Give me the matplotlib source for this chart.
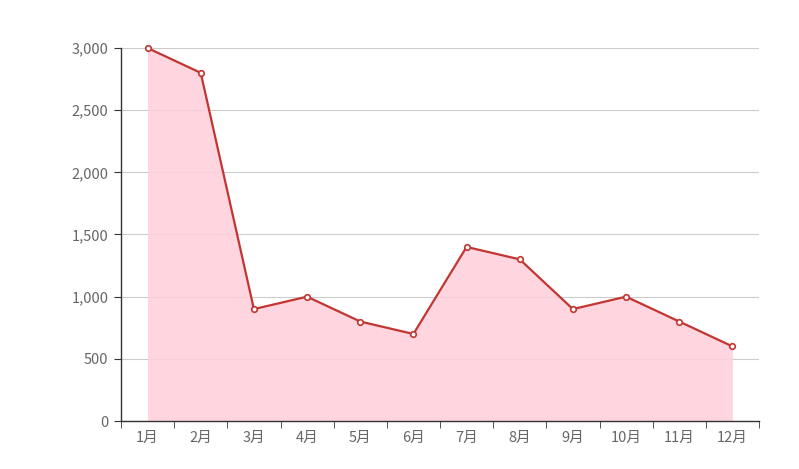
import matplotlib.pyplot as plt
import numpy as np

plt.rcParams['font.family'] = ['Noto Sans CJK SC', 'DejaVu Sans']

# monthly values
months = ['1月', '2月', '3月', '4月', '5月', '6月', '7月', '8月', '9月', '10月', '11月', '12月']
values = [3000, 2800, 900, 1000, 800, 700, 1400, 1300, 900, 1000, 800, 600]
y_ticks = [0, 500, 1000, 1500, 2000, 2500, 3000]

fig = plt.figure(figsize=(7.99, 4.69), dpi=100)
ax = fig.add_axes([121 / 799, 1 - 421 / 469, (759 - 121) / 799, (421 - 48) / 469])

x = np.arange(len(months))
ax.fill_between(x, values, 0, color='#ffd1dc', alpha=0.9, zorder=2, linewidth=0)
ax.plot(x, values, color='#c23531', linewidth=1.6, marker='o', markersize=4,
        markerfacecolor='white', markeredgecolor='#c23531', markeredgewidth=1.2,
        zorder=3, clip_on=False)

ax.set_xlim(-0.5, len(months) - 0.5)
ax.set_ylim(0, 3000)
ax.set_yticks(y_ticks)
ax.set_yticklabels([f'{v:,}' for v in y_ticks])
ax.set_xticks(x)
ax.set_xticklabels(months)
ax.set_xticks(np.arange(len(months) + 1) - 0.5, minor=True)

ax.grid(axis='y', color='#cccccc', linewidth=0.8, zorder=1)
ax.set_axisbelow(True)

for s in ['top', 'right']:
    ax.spines[s].set_visible(False)
for s in ['left', 'bottom']:
    ax.spines[s].set_color('#333333')
    ax.spines[s].set_linewidth(1)

ax.tick_params(axis='x', which='major', length=0, pad=7, labelsize=10.5, labelcolor='#666666')
ax.tick_params(axis='x', which='minor', length=5, color='#333333', direction='out')
ax.tick_params(axis='y', length=5, color='#333333', pad=4, labelsize=10.5, labelcolor='#666666')

fig.savefig('out.png', dpi=100)
